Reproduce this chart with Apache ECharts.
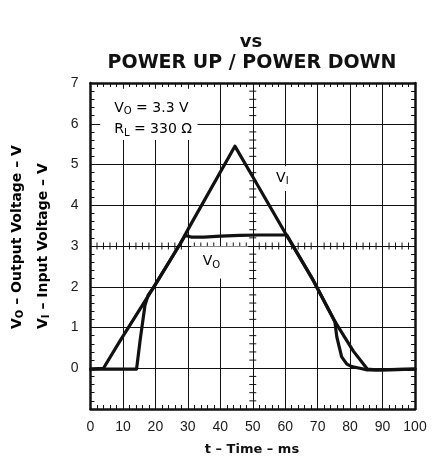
<!DOCTYPE html>
<html><head><meta charset="utf-8">
<script src="https://cdn.jsdelivr.net/npm/echarts@6/dist/echarts.min.js"></script>
<style>html,body{margin:0;padding:0;background:#fff}#c{width:438px;height:465px}</style>
</head><body><div id="c"></div>
<script>
// ---- data ----
const xTickLabels = [0, 10, 20, 30, 40, 50, 60, 70, 80, 90, 100];
const yTickLabels = [0, 1, 2, 3, 4, 5, 6, 7];

// V_I  (input voltage) trace
const viTime = [0, 4, 9, 19.4, 27.6, 30.7, 44.5, 50, 60.5, 68.7, 75.3, 81, 85.3, 88, 100];
const viVolt = [-0.02, 0, 0.66, 1.98, 3.05, 3.5, 5.45, 4.7, 3.25, 2.15, 1.15, 0.42, -0.02, -0.04, -0.02];

// V_O  (output voltage) trace
const voTime = [0, 14.2, 15.3, 16.8, 17.8, 19.4, 27.6, 29.2, 31, 35, 40, 46, 52, 60.5, 68.7, 75.3, 75.9, 77.4, 79, 80.5, 83, 85.3, 90, 100];
const voVolt = [-0.02, -0.02, 0.69, 1.55, 1.8, 1.98, 3.05, 3.26, 3.22, 3.22, 3.24, 3.26, 3.27, 3.27, 2.15, 1.15, 0.77, 0.28, 0.1, 0.04, 0.0, -0.04, -0.04, -0.02];

const titleLines = ['vs', 'POWER UP / POWER DOWN'];
const xName = 't – Time – ms';
const yNameO = ['V', 'O', ' – Output Voltage – V'];
const yNameI = ['V', 'I', ' – Input Voltage – V'];
const noteLines = [['V', 'O', ' = 3.3 V'], ['R', 'L', ' = 330 Ω']];
const traceLabels = [['V', 'I'], ['V', 'O']];

// ---- layout / style (not data) ----
const INK = '#111';
const notePos = [{t: 7.3, v: 6.38}, {t: 7.3, v: 5.86}];
const traceLabelPos = [{t: 57.2, v: 4.66}, {t: 34.6, v: 2.62}];
const whiteBoxes = [
  {t0: 3, t1: 33, v0: 5.6, v1: 6.86},
  {t0: 53.5, t1: 61.6, v0: 4.35, v1: 4.96},
  {t0: 31, t1: 48.5, v0: 2.2, v1: 2.985}
];
const crossX = 50, crossV = 3;
const crossTicks = [];
for (let k = 1; k < 50; k++) { if (k % 5) crossTicks.push({t: k * 2, v: crossV, dir: 'v'}); }
for (let k = -4; k < 35; k++) { if (k % 5) crossTicks.push({t: crossX, v: k * 0.2, dir: 'h'}); }

const pair = (ts, vs) => ts.map((t, i) => [t, vs[i]]);
const richBase = (size, bold, fam) => ({
  m: {fontSize: size, fontWeight: bold ? 'bold' : 'normal', fontFamily: fam, color: INK, lineHeight: size + 3, verticalAlign: 'middle'},
  s: {fontSize: Math.round(size * 0.72), fontWeight: bold ? 'bold' : 'normal', fontFamily: fam, color: INK, lineHeight: Math.round(size * 0.62), verticalAlign: 'bottom'}
});
const richStr = (p) => '{m|' + p[0] + '}{s|' + p[1] + '}{m|' + (p[2] || '') + '}';

const chart = echarts.init(document.getElementById('c'), null, {renderer: 'canvas'});

const baseAxis = {
  type: 'value',
  axisLine: {show: true, onZero: false, lineStyle: {color: INK, width: 2.5}},
  axisTick: {show: true, inside: true, length: 7, lineStyle: {color: INK, width: 1}},
  minorTick: {show: true, splitNumber: 5, length: 4, lineStyle: {color: INK, width: 1}},
  splitLine: {show: false},
  axisLabel: {show: false}
};

const option = {
  animation: false,
  backgroundColor: '#fff',
  grid: {left: 90.5, top: 83, right: 23, bottom: 56, containLabel: false},
  xAxis: [
    Object.assign({}, baseAxis, {
      position: 'bottom', min: 0, max: 100, interval: 10,
      splitLine: {show: true, lineStyle: {color: INK, width: 1}},
      axisLabel: {show: true, margin: 11, fontFamily: 'Liberation Sans', fontSize: 14, color: '#1a1a1a',
        formatter: v => (xTickLabels.indexOf(v) >= 0 ? String(v) : '')}
    }),
    Object.assign({}, baseAxis, {position: 'top', min: 0, max: 100, interval: 10})
  ],
  yAxis: [
    Object.assign({}, baseAxis, {
      position: 'left', min: -1, max: 7, interval: 1,
      splitLine: {show: true, lineStyle: {color: INK, width: 1}},
      axisLabel: {show: true, margin: 12, fontFamily: 'Liberation Sans', fontSize: 14, color: '#1a1a1a',
        formatter: v => (yTickLabels.indexOf(v) >= 0 ? String(v) : '')}
    }),
    Object.assign({}, baseAxis, {position: 'right', min: -1, max: 7, interval: 1})
  ],
  graphic: [
    {type: 'text', x: 251, y: 42, style: {text: titleLines[0], fontFamily: 'DejaVu Sans', fontWeight: 'bold', fontSize: 18, fill: INK, align: 'center', verticalAlign: 'middle'}},
    {type: 'text', x: 252, y: 63, style: {text: titleLines[1], fontFamily: 'DejaVu Sans', fontWeight: 'bold', fontSize: 19, fill: INK, align: 'center', verticalAlign: 'middle'}},
    {type: 'text', x: 252, y: 450, style: {text: xName, fontFamily: 'DejaVu Sans', fontWeight: 'bold', fontSize: 13, fill: INK, align: 'center', verticalAlign: 'middle'}},
    {type: 'text', x: 17, y: 329, rotation: Math.PI / 2, style: {text: richStr(yNameO), rich: richBase(14, true, 'DejaVu Sans'), align: 'left', verticalAlign: 'middle'}},
    {type: 'text', x: 43, y: 329, rotation: Math.PI / 2, style: {text: richStr(yNameI), rich: richBase(14, true, 'DejaVu Sans'), align: 'left', verticalAlign: 'middle'}}
  ],
  series: [
    {
      type: 'custom', z: 2, silent: true,
      data: crossTicks.map(c => [c.t, c.v]),
      renderItem: (params, api) => {
        const c = crossTicks[params.dataIndex];
        const p = api.coord([c.t, c.v]);
        const L = 3.5;
        const shape = c.dir === 'v' ? {x1: p[0], y1: p[1] - L, x2: p[0], y2: p[1] + L}
                                    : {x1: p[0] - L, y1: p[1], x2: p[0] + L, y2: p[1]};
        return {type: 'line', shape: shape, style: {stroke: INK, lineWidth: 1}};
      }
    },
    {
      type: 'custom', z: 3, silent: true,
      data: whiteBoxes.map(b => [b.t0, b.v0]),
      renderItem: (params, api) => {
        const b = whiteBoxes[params.dataIndex];
        const a = api.coord([b.t0, b.v1]);
        const c = api.coord([b.t1, b.v0]);
        return {type: 'rect', shape: {x: a[0], y: a[1], width: c[0] - a[0], height: c[1] - a[1]}, style: {fill: '#fff'}};
      }
    },
    {
      name: 'VI', type: 'line', z: 4, data: pair(viTime, viVolt), showSymbol: false, symbol: 'none',
      lineStyle: {color: INK, width: 3.2, join: 'round', cap: 'round'}
    },
    {
      name: 'VO', type: 'line', z: 4, data: pair(voTime, voVolt), showSymbol: false, symbol: 'none',
      lineStyle: {color: INK, width: 3.2, join: 'round', cap: 'round'}
    },
    {
      type: 'custom', z: 5, silent: true,
      data: notePos.concat(traceLabelPos).map(p => [p.t, p.v]),
      renderItem: (params, api) => {
        const i = params.dataIndex;
        const all = noteLines.concat(traceLabels);
        const pos = notePos.concat(traceLabelPos)[i];
        const p = api.coord([pos.t, pos.v]);
        return {type: 'text', x: p[0], y: p[1],
          style: {text: richStr(all[i]), rich: richBase(14, false, 'DejaVu Sans'), align: 'left', verticalAlign: 'middle'}};
      }
    }
  ]
};
chart.setOption(option);
</script>
</body></html>
